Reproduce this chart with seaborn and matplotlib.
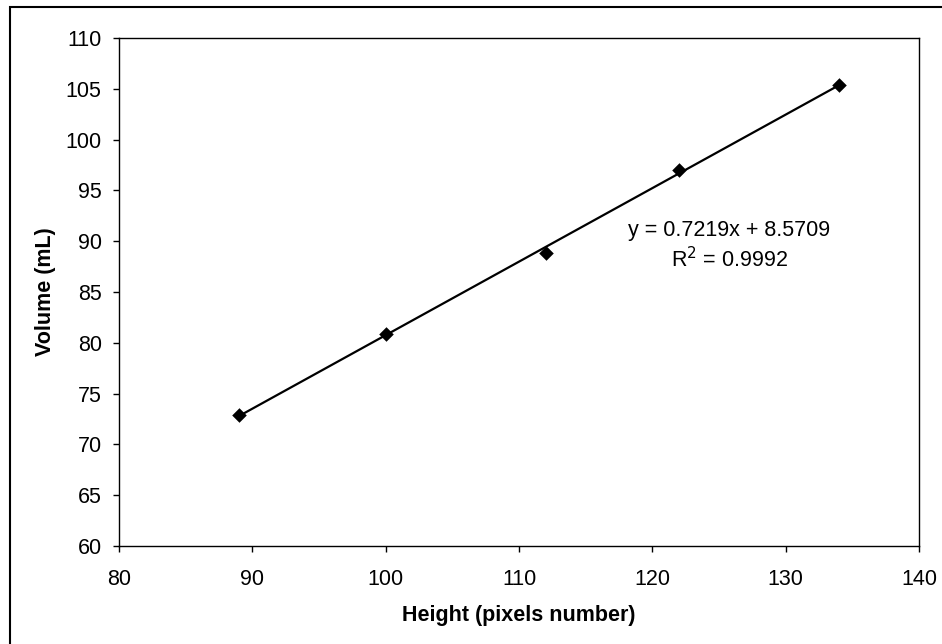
import matplotlib
matplotlib.use("Agg")
import matplotlib.pyplot as plt
import seaborn as sns
import numpy as np
import pandas as pd
from matplotlib.patches import Rectangle

height_px = [89, 100, 112, 122, 134]
volume_ml = [72.9, 80.9, 88.8, 97.0, 105.4]
x_ticks = [80, 90, 100, 110, 120, 130, 140]
y_ticks = [60, 65, 70, 75, 80, 85, 90, 95, 100, 105, 110]
eq_text = "y = 0.7219x + 8.5709"
r2_text = "R$^2$ = 0.9992"

sns.set_theme(style="white")
plt.rcParams['font.family'] = ['Liberation Sans', 'DejaVu Sans']
plt.rcParams['text.color'] = 'black'
plt.rcParams['axes.labelcolor'] = 'black'

df = pd.DataFrame({"Height": height_px, "Volume": volume_ml})

fig = plt.figure(figsize=(9.42, 6.44), dpi=100)
ax = fig.add_axes([119/942, 98/644, 800/942, 508/644])

sns.regplot(data=df, x="Height", y="Volume", ax=ax, ci=None, truncate=True,
            marker="D", color="black",
            scatter_kws={"s": 55, "edgecolors": "black", "linewidths": 0, "alpha": 1, "zorder": 3},
            line_kws={"linewidth": 1.6, "color": "black"})

ax.set_xlim(80, 140)
ax.set_ylim(60, 110)
ax.set_xticks(x_ticks)
ax.set_yticks(y_ticks)
ax.tick_params(axis="both", direction="out", length=4.5, width=1, color="black",
               labelsize=15.5, labelcolor="black", bottom=True, left=True)
ax.tick_params(axis="x", pad=12)
ax.tick_params(axis="y", pad=8)
for s in ax.spines.values():
    s.set_color("black")
    s.set_linewidth(1)
ax.grid(False)

ax.set_xlabel("Height (pixels number)", fontsize=15.5, fontweight="bold", labelpad=11, color="black")
ax.set_ylabel("Volume (mL)", fontsize=15.5, fontweight="bold", labelpad=7, color="black")

ax.text(0.763, 0.622, eq_text, transform=ax.transAxes, ha="center", va="center", fontsize=15.5, color="black")
ax.text(0.763, 0.563, r2_text, transform=ax.transAxes, ha="center", va="center", fontsize=15.5, color="black")

fig.patches.append(Rectangle((10/942, -0.1), 1.2, 1.1 - 7/644, transform=fig.transFigure,
                             fill=False, edgecolor="black", linewidth=1.5))

fig.savefig("out.png", dpi=100)
